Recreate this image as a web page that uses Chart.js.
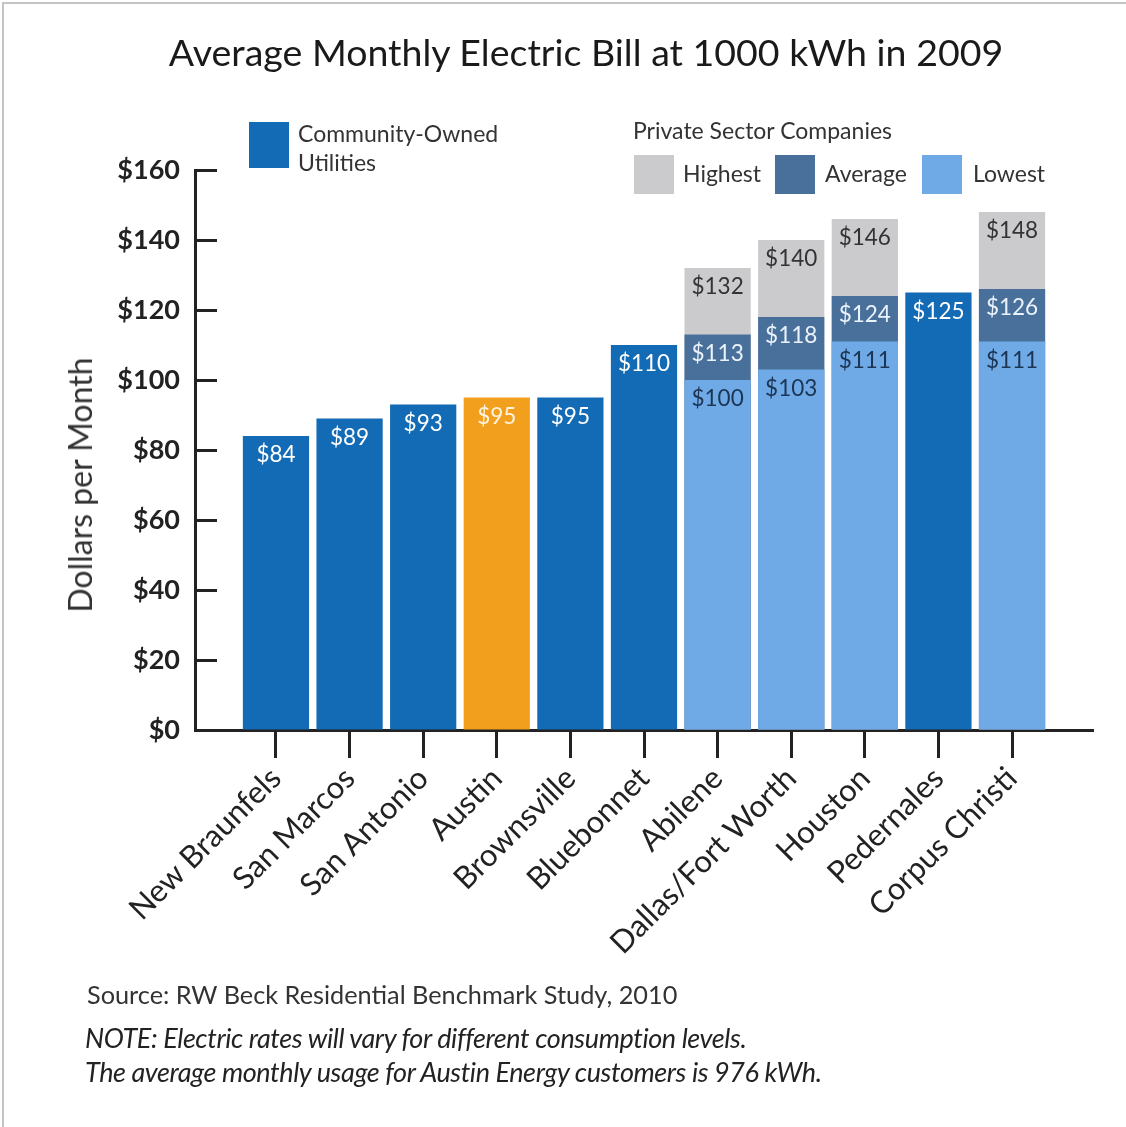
<!DOCTYPE html>
<html>
<head>
<meta charset="utf-8">
<script src="https://cdn.jsdelivr.net/npm/chart.js@4.4.1/dist/chart.umd.min.js"></script>
<style>
  html, body { margin: 0; padding: 0; background: #fff; }
  body { width: 1126px; height: 1127px; position: relative; overflow: hidden; font-family: Lato, "Open Sans", sans-serif; color: #333; }
  #frame { position: absolute; left: 2px; top: 2px; width: 1200px; height: 1200px; border-left: 2px solid #c4c4c4; border-top: 2px solid #c4c4c4; }
  #wrap { position: absolute; left: 0; top: 0; width: 1126px; height: 1127px; }
  .txt { position: absolute; white-space: nowrap; line-height: 1; }
  .sq { position: absolute; }
  #title { left: 0; width: 1172px; text-align: center; top: 33px; font-size: 37.5px; color: #1a1a1a; }
  #ytitle { left: 80px; top: 485px; font-size: 32px; transform: translate(-50%, -50%) rotate(-90deg); }
  .leg { font-size: 23px; }
  .src { font-size: 25.3px; color: #333; }
  .note { font-size: 27px; font-style: italic; letter-spacing: -0.4px; color: #222; }
</style>
</head>
<body>
<div id="frame"></div>
<div id="wrap"><canvas id="myChart" width="1126" height="1127"></canvas></div>

<div class="txt" id="title">Average Monthly Electric Bill at 1000 kWh in 2009</div>
<div class="txt" id="ytitle">Dollars per Month</div>

<div class="sq" style="left:249px;top:122px;width:40px;height:46px;background:#146bb5"></div>
<div class="txt leg" style="left:298px;top:119px;line-height:29px">Community-Owned<br>Utilities</div>

<div class="txt leg" style="left:633px;top:119px">Private Sector Companies</div>
<div class="sq" style="left:634px;top:155px;width:40px;height:39px;background:#cbcbcd"></div>
<div class="txt leg" style="left:683px;top:162px">Highest</div>
<div class="sq" style="left:775px;top:155px;width:40px;height:39px;background:#48709a"></div>
<div class="txt leg" style="left:825px;top:162px">Average</div>
<div class="sq" style="left:922px;top:155px;width:40px;height:39px;background:#6fa9e6"></div>
<div class="txt leg" style="left:973px;top:162px">Lowest</div>

<div class="txt src" style="left:87px;top:982px">Source: RW Beck Residential Benchmark Study, 2010</div>
<div class="txt note" style="left:85px;top:1024px">NOTE: Electric rates will vary for different consumption levels.</div>
<div class="txt note" style="left:85px;top:1058px">The average monthly usage for Austin Energy customers is 976 kWh.</div>

<script>
// cities in chart order
const cities = ['New Braunfels', 'San Marcos', 'San Antonio', 'Austin', 'Brownsville', 'Bluebonnet',
  'Abilene', 'Dallas/Fort Worth', 'Houston', 'Pedernales', 'Corpus Christi'];
// community-owned utilities (null = private sector city)
const communityBill = [84, 89, 93, 95, 95, 110, null, null, null, 125, null];
// private sector companies: lowest / average / highest
const lowestBill = [null, null, null, null, null, null, 100, 103, 111, null, 111];
const averageBill = [null, null, null, null, null, null, 113, 118, 124, null, 126];
const highestBill = [null, null, null, null, null, null, 132, 140, 146, null, 148];
const yTicks = [0, 20, 40, 60, 80, 100, 120, 140, 160];

const BLUE = '#146bb5';
const ORANGE = '#f29f1e';

// {x: index, y: value} points, skip empty ones
function points(values) {
  return values.map((v, i) => ({ x: i, y: v })).filter(p => p.y !== null);
}

const communityPts = points(communityBill);

// value labels inside the top of each bar
const barLabels = {
  id: 'barLabels',
  afterDatasetsDraw(chart) {
    const ctx = chart.ctx;
    ctx.save();
    ctx.font = '22.5px Lato, sans-serif';
    ctx.textAlign = 'center';
    ctx.textBaseline = 'middle';
    chart.data.datasets.forEach((ds, di) => {
      const meta = chart.getDatasetMeta(di);
      meta.data.forEach((el, i) => {
        const v = ds.data[i].y;
        ctx.fillStyle = typeof ds.labelColor === 'function' ? ds.labelColor(ds.data[i]) : ds.labelColor;
        ctx.fillText('$' + v, el.x, el.y + 19);
      });
    });
    ctx.restore();
  }
};

// short tick marks pointing into the plot on the y axis
const innerTicks = {
  id: 'innerTicks',
  afterDraw(chart) {
    const { ctx, chartArea } = chart;
    const y = chart.scales.y;
    ctx.save();
    ctx.strokeStyle = '#222';
    ctx.lineWidth = 3;
    yTicks.forEach(v => {
      if (v === 0) return;
      const py = Math.round(y.getPixelForValue(v)) + 0.5;
      ctx.beginPath();
      ctx.moveTo(chartArea.left, py);
      ctx.lineTo(chartArea.left + 22, py);
      ctx.stroke();
    });
    ctx.restore();
  }
};

const data = {
  datasets: [
    {
      label: 'Community-Owned Utilities',
      data: communityPts,
      backgroundColor: communityPts.map(p => cities[p.x] === 'Austin' ? ORANGE : BLUE),
      labelColor: p => cities[p.x] === 'Austin' ? '#fff4e0' : '#ffffff',
      order: 0,
    },
    {
      label: 'Lowest',
      data: points(lowestBill),
      backgroundColor: '#6fa9e6',
      labelColor: '#1c3553',
      order: 1,
    },
    {
      label: 'Average',
      data: points(averageBill),
      backgroundColor: '#48709a',
      labelColor: '#eaf2fb',
      order: 2,
    },
    {
      label: 'Highest',
      data: points(highestBill),
      backgroundColor: '#cbcbcd',
      labelColor: '#333333',
      order: 3,
    },
  ],
};

const config = {
  type: 'bar',
  data,
  options: {
    responsive: false,
    animation: false,
    events: [],
    layout: { padding: { top: 170, right: 33, left: 0, bottom: 0 } },
    datasets: {
      bar: { grouped: false, barPercentage: 0.9, categoryPercentage: 1 },
    },
    scales: {
      x: {
        type: 'linear',
        offset: false,
        min: -1.1,
        max: 11.1,
        afterFit(axis) { axis.height = 397; },
        afterBuildTicks(axis) {
          axis.ticks = cities.map((c, i) => ({ value: i }));
        },
        ticks: {
          autoSkip: false,
          minRotation: 45,
          maxRotation: 45,
          padding: 2,
          color: '#222',
          font: { family: 'Lato', size: 31 },
          callback: v => cities[v],
        },
        grid: {
          offset: false,
          drawOnChartArea: false,
          drawTicks: true,
          tickLength: 28,
          tickWidth: 3,
          tickColor: '#222',
        },
        border: { display: true, color: '#222', width: 3 },
      },
      y: {
        min: 0,
        max: 160,
        afterFit(axis) { axis.width = 195; },
        afterBuildTicks(axis) {
          axis.ticks = yTicks.map(v => ({ value: v }));
        },
        ticks: {
          padding: 15,
          color: '#222',
          font: { family: 'Lato', size: 27, weight: 'bold' },
          callback: v => '$' + v,
        },
        grid: { display: true, drawOnChartArea: false, drawTicks: false },
        border: { display: true, color: '#222', width: 3 },
      },
    },
    plugins: {
      legend: { display: false },
      tooltip: { enabled: false },
    },
  },
  plugins: [barLabels, innerTicks],
};

const myChart = new Chart(document.getElementById('myChart'), config);
</script>
</body>
</html>
